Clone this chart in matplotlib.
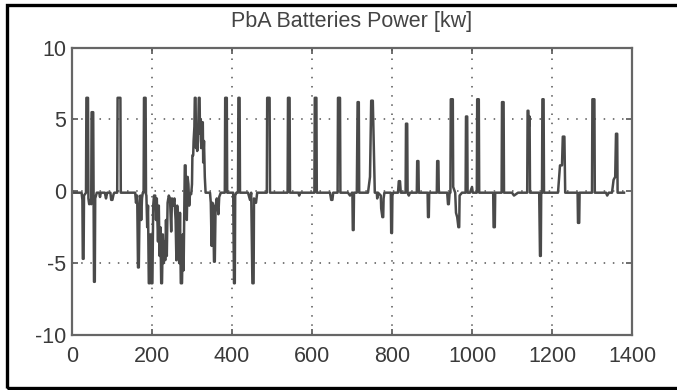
import numpy as np
import matplotlib
matplotlib.use('Agg')
import matplotlib.pyplot as plt
from matplotlib.patches import Rectangle

# (time, power kW) points, split in stretches
seg_start = [(0, -0.1), (24, -0.1), (26, -0.6), (27, -4.7), (29, -4.7), (30, -0.3),
             (35, -0.1), (36, 6.5), (40, 6.5), (41, -0.5), (43, -0.9), (46, -0.6),
             (48, -0.9), (49, 5.5), (53, 5.5), (54, -0.8), (55, -6.3), (57, -6.3),
             (58, -0.5), (62, -0.1), (68, -0.1), (70, -0.4), (72, -0.1), (82, -0.1),
             (85, -0.5), (88, -0.1), (96, -0.1), (98, -0.6), (101, -0.6), (104, -0.2),
             (106, -0.1), (113, -0.1), (114, 6.5), (121, 6.5), (122, -0.1), (158, -0.1),
             (160, -0.8), (163, -0.3), (165, -5.3), (167, -5.3), (169, -1.0), (171, -0.3),
             (173, -2.0), (175, -0.5), (177, -0.1), (179, -0.1), (180, 6.5), (184, 6.5),
             (185, -0.2)]

seg_discharge = [(186, -0.3), (188, -2.5), (190, -1.0), (192, -6.4), (194, -6.4),
                 (196, -3.0), (198, -6.4), (201, -6.4), (203, -1.0), (205, -0.3),
                 (208, -0.3), (210, -2.0), (212, -0.5), (215, -3.5), (217, -1.0),
                 (219, -4.5), (221, -2.5), (223, -6.4), (225, -6.4), (227, -3.0),
                 (229, -5.0), (231, -3.5), (233, -4.8), (235, -2.0), (237, -4.5),
                 (239, -0.8), (242, -0.3), (245, -0.5), (248, -2.8), (250, -0.5),
                 (253, -1.0), (256, -0.5), (259, -2.0), (261, -4.8), (263, -1.0),
                 (266, -3.0), (268, -5.0), (270, -1.5), (272, -6.4), (275, -6.4),
                 (277, -3.0), (279, -5.5), (281, -0.5), (282, 1.8), (284, 1.8),
                 (285, -0.5), (287, -2.0), (289, 1.0), (291, 0.5), (293, -1.0),
                 (295, -0.2), (298, -0.2)]

seg_charge = [(300, 0.5), (301, 2.5), (303, 2.5), (304, 3.5), (306, 4.5), (307, 6.5),
              (309, 6.5), (310, 3.0), (312, 4.5), (313, 2.8), (315, 3.5), (317, 6.5),
              (319, 6.5), (320, 4.0), (322, 5.0), (323, 3.0), (325, 4.8), (327, 4.8),
              (328, 2.0), (330, 3.5), (332, 1.0), (334, -0.1)]

seg_mid = [(345, -0.1), (347, -0.8), (349, -3.8), (351, -0.8), (353, -1.0), (355, -4.9),
           (357, -4.9), (359, -1.0), (362, -0.5), (366, -1.6), (368, -0.4), (372, -0.1),
           (382, -0.1), (383, 6.5), (387, 6.5), (388, -0.1), (403, -0.1), (405, -6.4),
           (407, -6.4), (408, -0.3), (411, -0.1), (415, -0.1), (416, 6.5), (419, 6.5),
           (420, -0.1), (440, -0.1), (445, -0.6), (448, -0.1), (451, -6.4), (454, -6.4),
           (455, -0.5), (460, -0.8), (463, -0.1), (487, -0.1), (488, 6.5), (494, 6.5),
           (495, -0.1), (539, -0.1), (540, 6.5), (544, 6.5), (545, -0.1), (566, -0.1),
           (568, -0.3), (570, -0.1), (606, -0.1), (607, 6.5), (611, 6.5), (612, -0.1),
           (645, -0.1), (648, -0.6), (651, -0.6), (653, -0.1), (664, -0.1), (665, 6.5),
           (670, 6.5), (671, -0.1), (690, -0.1), (695, -0.3), (700, -0.1)]

seg_late = [(701, -0.1), (702, -2.7), (704, -2.7), (705, -0.1), (712, -0.1), (714, 6.2),
            (717, 6.2), (718, -0.1), (740, -0.1), (745, 1.0), (748, 6.3), (752, 6.3),
            (755, 2.5), (757, -0.1), (762, -0.1), (763, -0.5), (765, -0.1), (772, -0.3),
            (773, -1.2), (776, -1.8), (778, -1.8), (779, -0.5), (781, -0.1), (797, -0.1),
            (798, -2.9), (800, -2.9), (801, -0.3), (803, -0.1), (815, -0.1), (817, 0.7),
            (820, 0.7), (822, -0.1), (834, -0.1), (835, 4.7), (838, 4.7), (839, -0.1),
            (842, -0.3), (845, -0.1), (862, -0.1), (863, 2.1), (866, 2.1), (867, -0.1),
            (889, -0.1), (890, -1.8), (892, -1.8), (893, -0.1), (912, -0.1), (913, 2.1),
            (916, 2.1), (917, -0.1), (938, -0.1), (940, -0.9), (942, -0.9), (944, -0.1),
            (946, -0.1), (947, 6.4), (952, 6.4), (953, 0.3), (958, -0.1), (960, -1.5),
            (963, -1.8), (966, -2.5), (968, -2.5), (969, -0.3), (975, -0.1), (984, -0.1),
            (985, 5.2), (988, 5.2), (989, -0.1), (995, -0.1), (1000, 0.3), (1002, -0.1),
            (1012, -0.1), (1013, 6.4), (1017, 6.4), (1018, -0.1)]

seg_end = [(1040, -0.1), (1053, -0.1), (1054, -2.5), (1057, -2.5), (1058, -0.1),
           (1074, -0.1), (1075, 6.2), (1079, 6.2), (1080, -0.1), (1100, -0.1),
           (1105, -0.3), (1110, -0.2), (1115, -0.1), (1138, -0.1), (1139, 5.6),
           (1141, 5.6), (1142, 4.5), (1144, 5.2), (1145, -0.1), (1168, -0.1),
           (1170, -4.5), (1172, -4.5), (1173, -0.1), (1175, -0.1), (1176, 6.4),
           (1179, 6.4), (1180, -0.1), (1215, -0.1), (1220, 1.8), (1225, 1.8),
           (1227, 3.8), (1231, 3.8), (1233, -0.1), (1264, -0.1), (1265, -2.2),
           (1268, -2.2), (1269, -0.1), (1300, -0.1), (1301, 6.4), (1306, 6.4),
           (1307, -0.1), (1335, -0.1), (1338, -0.3), (1342, -0.1), (1350, -0.1),
           (1354, 0.8), (1358, 1.0), (1360, 4.0), (1363, 4.0), (1364, -0.1),
           (1380, -0.1)]

x_ticks = [0, 200, 400, 600, 800, 1000, 1200, 1400]
y_ticks = [-10, -5, 0, 5, 10]

pts = np.array(seg_start + seg_discharge + seg_charge + seg_mid + seg_late + seg_end)
t = pts[:, 0]
p = pts[:, 1]

plt.rcParams['font.family'] = ['Liberation Sans', 'DejaVu Sans']
plt.rcParams['axes.unicode_minus'] = False

fig = plt.figure(figsize=(6.77, 3.90), dpi=100)
ax = fig.add_axes([72 / 677, 55 / 390, 560 / 677, 287.5 / 390])

ax.plot(t, p, color='#4a4a4a', lw=1.8)

ax.set_xlim(0, 1400)
ax.set_ylim(-10, 10)
ax.set_xticks(x_ticks)
ax.set_yticks(y_ticks)
ax.grid(True, linestyle=(0, (1, 5)), color='#555555', lw=1.1)
ax.tick_params(direction='in', length=4, width=1.2, colors='#555555',
               labelcolor='#3a3a3a', labelsize=15.5, top=True, right=True)
ax.tick_params(axis='x', pad=8)
ax.tick_params(axis='y', pad=4)
for s in ax.spines.values():
    s.set_color('#666666')
    s.set_linewidth(1.6)
ax.set_title('PbA Batteries Power [kw]', fontsize=15.5, color='#444444', pad=15)

# black frame of the scanned figure
fig.patches.append(Rectangle((7 / 677, 2 / 390), 1.0, 383 / 390, transform=fig.transFigure,
                             fill=False, edgecolor='black', lw=2.4))

fig.savefig('out.png', dpi=100)
